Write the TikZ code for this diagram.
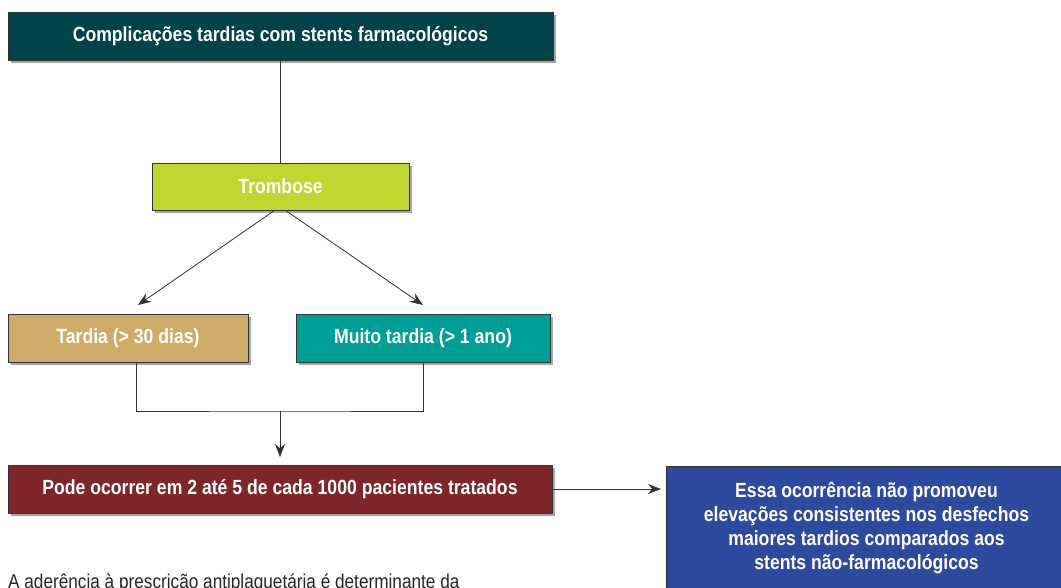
\documentclass[tikz,border=0pt]{standalone}
\usepackage{fontspec}
\setmainfont[FakeStretch=0.86]{Liberation Sans}
\usetikzlibrary{shadows,arrows.meta,calc}
\definecolor{cTop}{HTML}{02424A}
\definecolor{cLime}{HTML}{BFD730}
\definecolor{cTan}{HTML}{CFAB69}
\definecolor{cTeal}{HTML}{009E96}
\definecolor{cRed}{HTML}{7F262B}
\definecolor{cBlue}{HTML}{2E4A9E}
\definecolor{cLine}{HTML}{333333}
\tikzset{
  box/.style={rectangle, draw=cLine, line width=0.8pt, text=white, font=\fontsize{20.5}{24}\selectfont\bfseries, align=center, inner sep=0pt,
    drop shadow={shadow xshift=3pt, shadow yshift=-3pt, fill=black, opacity=0.35}},
  conn/.style={draw=cLine, line width=0.8pt},
  arr/.style={conn, -{Stealth[length=13pt,width=10pt]}},
}
\begin{document}
\begin{tikzpicture}[x=1pt,y=-1pt]
\useasboundingbox (0,0) rectangle (1061,587);
\clip (0,0) rectangle (1061,587);
\node[box, fill=cTop, minimum width=545pt, minimum height=48pt] (top) at (280.5,36) {Complicações tardias com stents farmacológicos};
\node[box, fill=cLime, minimum width=257pt, minimum height=47pt] (trom) at (280.5,186.5) {Trombose};
\node[box, fill=cTan, minimum width=240pt, minimum height=48pt] (tard) at (128,338) {Tardia (> 30 dias)};
\node[box, fill=cTeal, minimum width=254pt, minimum height=48pt] (muito) at (423,338) {Muito tardia (> 1 ano)};
\node[box, fill=cRed, minimum width=544pt, minimum height=48pt] (pode) at (280,489) {Pode ocorrer em 2 até 5 de cada 1000 pacientes tratados};
\node[box, fill=cBlue, minimum width=401pt, minimum height=124pt, font=\fontsize{20.5}{24.3}\selectfont\bfseries] (blue) at (866.5,528) {Essa ocorrência não promoveu\\elevações consistentes nos desfechos\\maiores tardios comparados aos\\stents não-farmacológicos};
\node[anchor=base west, inner sep=0pt, font=\fontsize{20}{24}\selectfont, text=black!85] (nota) at (8,588) {A aderência à prescrição antiplaquetária é determinante da};
\coordinate (tipL) at (138,305);
\coordinate (tipR) at (423,305);
\coordinate (join) at (280,411);
\coordinate (tipP) at (280,457);
\coordinate (tipB) at (661,489);
\draw[conn] (top.south) -- (trom.north);
\draw[arr] ([xshift=-6pt]trom.south) -- (tipL);
\draw[arr] ([xshift=5pt]trom.south) -- (tipR);
\draw[conn] ([xshift=8pt]tard.south) |- (join) -| (muito.south);
\draw[arr] (join) -- (tipP);
\draw[arr] (pode.east) -- (tipB);
\end{tikzpicture}
\end{document}
